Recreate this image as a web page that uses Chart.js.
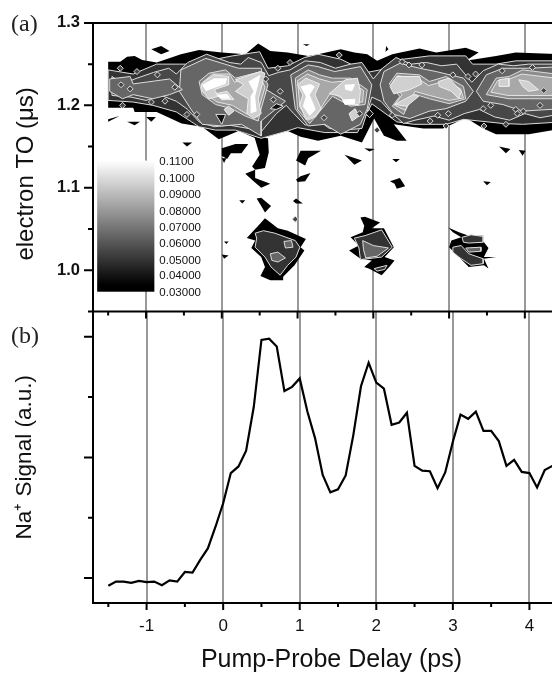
<!DOCTYPE html>
<html>
<head>
<meta charset="utf-8">
<title>Pump-probe delay</title>
<script src="https://cdn.jsdelivr.net/npm/chart.js@4"></script>
<style>
  html, body { margin: 0; padding: 0; background: #fff; }
  #wrap { position: relative; width: 552px; height: 673px; overflow: hidden; }
  canvas { position: absolute; left: 0; top: 0; }
  .panel-tag { position: absolute; left: 11px; font: 24px "Liberation Serif", serif; color: #222; }
</style>
</head>
<body>
<div id="wrap">
  <canvas id="signalChart" width="570" height="673"></canvas>
  <canvas id="contourChart" width="570" height="673"></canvas>
  <div class="panel-tag" style="top:10px">(a)</div>
  <div class="panel-tag" style="top:322px">(b)</div>
</div>
<script>
// Delay axis shared by both panels
const xMin = -1.70, xMax = 4.53;
const delayTicks = [-1.5, -1, -0.5, 0, 0.5, 1, 1.5, 2, 2.5, 3, 3.5, 4];

// Panel (b): Na+ signal
const delays = [-1.5, -1.4, -1.3, -1.2, -1.1, -1, -0.9, -0.8, -0.7, -0.6, -0.5, -0.4, -0.3, -0.2, -0.1,
  0, 0.1, 0.2, 0.3, 0.4, 0.5, 0.6, 0.7, 0.8, 0.9, 1, 1.1, 1.2, 1.3, 1.4, 1.5, 1.6, 1.7, 1.8, 1.9,
  2, 2.1, 2.2, 2.3, 2.4, 2.5, 2.6, 2.7, 2.8, 2.9, 3, 3.1, 3.2, 3.3, 3.4, 3.5, 3.6, 3.7, 3.8, 3.9,
  4, 4.1, 4.2, 4.3];
const naSignal = [-0.13, -0.06, -0.06, -0.08, -0.05, -0.07, -0.06, -0.12, -0.04, -0.06, 0.10, 0.09, 0.30, 0.49, 0.85,
  1.24, 1.74, 1.85, 2.11, 2.84, 3.95, 3.97, 3.84, 3.10, 3.17, 3.31, 2.76, 2.32, 1.71, 1.42, 1.47, 1.70, 2.37, 3.18, 3.57,
  3.24, 3.14, 2.54, 2.58, 2.74, 1.86, 1.78, 1.77, 1.49, 1.75, 2.26, 2.71, 2.64, 2.76, 2.44, 2.44, 2.27, 1.86, 1.96, 1.76,
  1.74, 1.50, 1.79, 1.86];
const signalTicks = [0, 1, 2, 3, 4];

// Panel (a): contour regions per level, [delay ps, time of flight us]
const timeTicks = [1.3, 1.25, 1.2, 1.15, 1.1, 1.05, 1, 0.95];

const level030 = [
  [[-1.5,1.253],[-1.34,1.253],[-1.25,1.259],[-1.15,1.26],[-1.05,1.255],[-0.86,1.252],[-0.54,1.262],[-0.3,1.267],[0,1.264],[0.31,1.262],[0.48,1.275],[0.64,1.266],[0.87,1.264],[1.14,1.26],[1.27,1.262],[1.57,1.268],[1.75,1.264],[1.92,1.262],[2.05,1.254],[2.25,1.262],[2.61,1.269],[2.83,1.264],[3.22,1.27],[3.39,1.264],[3.22,1.254],[3.62,1.26],[3.88,1.264],[4.5,1.262],
   [4.5,1.172],[4.05,1.165],[3.62,1.165],[3.45,1.172],[3.22,1.185],[2.92,1.172],[2.66,1.172],[2.27,1.177],[2.44,1.157],[2.31,1.157],[2.14,1.163],[2.01,1.184],[1.85,1.155],[1.57,1.163],[1.27,1.157],[1.04,1.162],[0.87,1.169],[0.48,1.159],[0.22,1.169],[-0.04,1.159],[-0.26,1.174],[-0.53,1.178],[-0.86,1.192],[-1.15,1.192],[-1.17,1.197],[-1.5,1.197],[-1.5,1.183],[-1.35,1.187],[-1.5,1.18]],
  [[0.46,1.052],[0.57,1.063],[0.74,1.051],[0.87,1.048],[1.11,1.038],[1.04,1.028],[1.09,1.024],[0.96,1.006],[0.81,0.992],[0.81,0.988],[0.64,0.988],[0.51,0.993],[0.57,1.004],[0.52,1.016],[0.39,1.027],[0.44,1.036],[0.33,1.039],[0.44,1.05]],
  [[1.83,1.064],[1.89,1.065],[2.09,1.058],[1.98,1.051],[2.14,1.051],[2.27,1.028],[2.15,1.016],[2.28,1.012],[2.21,1.004],[2.11,0.994],[1.94,1.002],[1.88,1.004],[1.98,1.012],[1.83,1.014],[1.68,1.024],[1.81,1.03],[1.7,1.04],[1.86,1.046],[1.88,1.054]],
  [[2.99,1.052],[3.13,1.046],[3.26,1.042],[3.45,1.042],[3.46,1.034],[3.52,1.027],[3.46,1.016],[3.62,1.016],[3.46,1.014],[3.52,1.002],[3.46,1.006],[3.26,1.004],[3.13,1.016],[3,1.028],[3.03,1.036],[3.16,1.04],[3.05,1.046]],
  [[-0.93,1.268],[-0.8,1.272],[-0.69,1.266],[-0.8,1.262]],
  [[0,1.148],[0.18,1.153],[0.35,1.153],[0.26,1.142],[0.12,1.142],[0.07,1.135],[0,1.139]],
  [[0.43,1.162],[0.61,1.16],[0.62,1.143],[0.57,1.124],[0.44,1.122],[0.4,1.126],[0.5,1.14]],
  [[0.31,1.117],[0.44,1.122],[0.44,1.112],[0.64,1.105],[0.52,1.1],[0.42,1.108]],
  [[0.46,1.087],[0.52,1.088],[0.65,1.078],[0.57,1.07],[0.52,1.078]],
  [[0.98,1.133],[1.04,1.145],[1.31,1.145],[1.14,1.136],[1.1,1.127]],
  [[0.98,1.11],[1.04,1.114],[1.17,1.118],[1.1,1.108],[1,1.107]],
  [[0.94,1.084],[0.98,1.087],[1.07,1.081],[0.98,1.081]],
  [[2.22,1.108],[2.35,1.112],[2.42,1.102],[2.31,1.099],[2.28,1.105]],
  [[2.25,1.135],[2.35,1.135],[2.3,1.131]],
  [[3.45,1.108],[3.55,1.107],[3.5,1.103]],
  [[3.66,1.15],[3.81,1.147],[3.75,1.142]],
  [[1.88,1.148],[2.02,1.147],[1.95,1.144]],
  [[1.62,1.14],[1.85,1.133],[1.75,1.128]],
  [[2.17,1.272],[2.2,1.268],[2.16,1.265]],
  [[1.07,1.274],[1.16,1.274],[1.12,1.272]],
  [[3.92,1.146],[4.01,1.145],[3.97,1.139]],
  [[-1.25,1.18],[-1.08,1.18],[-1.15,1.176]],
  [[-1,1.186],[-0.87,1.186],[-0.93,1.18]],
  [[-0.52,1.155],[-0.39,1.155],[-0.46,1.15]],
  [[0.23,1.085],[0.31,1.085],[0.27,1.081]],
  [[0.03,1.035],[0.09,1.035],[0.06,1.032]],
  [[0,1.019],[0.09,1.018],[0.03,1.014]],
  [[0,1.136],[0.06,1.136],[0.03,1.13]]
];

const level040 = [
  [[-1.5,1.243],[-1.17,1.238],[-0.86,1.25],[-0.56,1.25],[-0.3,1.25],[-0.08,1.256],[0.14,1.26],[0.5,1.265],[0.61,1.245],[0.87,1.248],[1.09,1.258],[1.27,1.262],[1.57,1.256],[1.92,1.24],[2.09,1.243],[2.31,1.255],[2.74,1.26],[3.22,1.26],[3.31,1.25],[3.62,1.25],[3.88,1.254],[4.5,1.254],
   [4.5,1.18],[3.97,1.177],[3.71,1.178],[3.19,1.183],[2.96,1.177],[2.53,1.177],[2.31,1.18],[2.22,1.186],[1.98,1.202],[1.79,1.167],[1.36,1.167],[1,1.173],[0.87,1.169],[0.52,1.16],[0.18,1.17],[-0.08,1.17],[-0.3,1.174],[-0.6,1.192],[-0.91,1.2],[-1.17,1.204],[-1.5,1.206]],
  [[0.44,1.045],[0.55,1.048],[0.7,1.045],[0.97,1.036],[1.03,1.028],[0.98,1.016],[0.87,1.006],[0.77,0.994],[0.65,1.004],[0.57,1.016],[0.44,1.028],[0.46,1.039]],
  [[1.75,1.039],[1.89,1.042],[2.11,1.049],[2.25,1.028],[2.11,1.016],[1.83,1.013],[1.81,1.027]],
  [[2.01,1.002],[2.18,1.006],[2.15,1.001],[2.05,0.999]],
  [[3.17,1.04],[3.29,1.043],[3.45,1.041],[3.45,1.034],[3.26,1.033],[3.19,1.034]],
  [[3.05,1.028],[3.16,1.03],[3.26,1.02],[3.45,1.014],[3.45,1.008],[3.29,1.006],[3.13,1.016],[3.05,1.022]]
];

const level048 = [
  [[-1.45,1.235],[-1.3,1.226],[-1.15,1.232],[-0.9,1.24],[-0.7,1.245],[-0.6,1.238],[-0.45,1.252],[-0.2,1.262],[0.1,1.252],[0.25,1.25],[0.35,1.258],[0.52,1.252],[0.62,1.236],[0.75,1.24],[0.9,1.243],[1.1,1.254],[1.3,1.252],[1.5,1.245],[1.7,1.25],[1.85,1.252],[2,1.232],[2.12,1.245],[2.3,1.258],[2.5,1.25],[2.7,1.252],[2.9,1.248],[3.1,1.25],[3.3,1.228],[3.45,1.242],[3.65,1.25],[3.85,1.248],[4.05,1.25],[4.5,1.25],
   [4.5,1.19],[4.2,1.185],[4,1.19],[3.8,1.182],[3.6,1.186],[3.4,1.195],[3.2,1.19],[3,1.182],[2.8,1.187],[2.55,1.182],[2.4,1.178],[2.25,1.19],[2.1,1.205],[1.98,1.21],[1.85,1.172],[1.6,1.17],[1.42,1.172],[1.3,1.18],[1.1,1.176],[0.95,1.19],[0.85,1.2],[0.72,1.19],[0.52,1.168],[0.35,1.172],[0.1,1.176],[-0.1,1.174],[-0.3,1.18],[-0.45,1.195],[-0.6,1.205],[-0.8,1.212],[-1,1.206],[-1.2,1.21],[-1.45,1.212]]
];

const level055 = [
  [[-0.54,1.243],[-0.21,1.257],[0.22,1.245],[0.52,1.245],[0.57,1.22],[0.84,1.205],[0.52,1.181],[0.52,1.163],[0.26,1.177],[0,1.175],[-0.26,1.177],[-0.39,1.193],[-0.56,1.217]],
  [[0.91,1.237],[1.14,1.249],[1.27,1.247],[1.49,1.241],[1.83,1.247],[1.98,1.225],[1.92,1.196],[1.83,1.177],[1.57,1.165],[1.36,1.177],[1.14,1.175],[0.97,1.196]],
  [[2.14,1.241],[2.35,1.251],[2.61,1.245],[2.83,1.241],[3.19,1.233],[3.32,1.217],[3.22,1.205],[2.96,1.196],[2.74,1.193],[2.48,1.184],[2.27,1.189],[2.14,1.205],[2.09,1.225]],
  [[3.36,1.217],[3.49,1.237],[3.71,1.245],[4.05,1.245],[4.5,1.247],[4.5,1.196],[3.97,1.193],[3.71,1.201],[3.45,1.205]],
  [[-1.48,1.232],[-1.21,1.235],[-1.17,1.226],[-0.69,1.232],[-0.52,1.219],[-0.69,1.213],[-0.91,1.208],[-1.17,1.213],[-1.31,1.208],[-1.48,1.217]],
  [[0.64,1.02],[0.74,1.022],[0.84,1.015],[0.74,1.01],[0.66,1.012]],
  [[0.82,1.035],[0.92,1.036],[0.94,1.028],[0.84,1.027]],
  [[1.86,1.036],[2,1.03],[2.2,1.027],[2.05,1.017],[1.9,1.015],[1.87,1.025]],
  [[3.22,1.027],[3.42,1.028],[3.42,1.023],[3.26,1.022]]
];

const level070 = [
  [[-0.3,1.229],[-0.17,1.239],[0.05,1.243],[0.18,1.233],[0.52,1.241],[0.61,1.225],[0.52,1.196],[0.48,1.181],[0.31,1.187],[0.13,1.196],[-0.08,1.201],[-0.26,1.213]],
  [[0.97,1.233],[1.14,1.243],[1.29,1.237],[1.46,1.233],[1.7,1.233],[1.92,1.219],[1.89,1.201],[1.7,1.199],[1.46,1.211],[1.27,1.19],[1.16,1.178],[1,1.195]],
  [[2.21,1.226],[2.31,1.239],[2.61,1.237],[2.74,1.229],[2.96,1.235],[3.19,1.223],[3.22,1.208],[3,1.202],[2.74,1.208],[2.53,1.214],[2.4,1.189],[2.25,1.199],[2.35,1.211]],
  [[3.62,1.233],[3.79,1.235],[3.97,1.243],[4.5,1.237],[4.5,1.208],[4.05,1.208],[3.79,1.208],[3.49,1.213]]
];

const level080 = [
  [[-0.25,1.228],[-0.12,1.238],[0.1,1.238],[0.17,1.228],[0.48,1.24],[0.57,1.222],[0.5,1.2],[0.47,1.186],[0.32,1.19],[0.14,1.2],[-0.06,1.204],[-0.24,1.215]],
  [[1,1.23],[1.13,1.238],[1.29,1.232],[1.45,1.228],[1.68,1.23],[1.87,1.218],[1.86,1.204],[1.68,1.204],[1.44,1.216],[1.33,1.2],[1.24,1.186],[1.14,1.182],[1.03,1.198]],
  [[2.24,1.226],[2.32,1.236],[2.6,1.232],[2.73,1.224],[2.96,1.23],[3.15,1.22],[3.19,1.209],[3,1.206],[2.74,1.212],[2.55,1.217],[2.42,1.194],[2.28,1.2],[2.38,1.213]],
  [[3.64,1.23],[3.8,1.232],[3.96,1.238],[4.5,1.232],[4.5,1.212],[4.05,1.212],[3.78,1.212],[3.55,1.216]]
];

const level090 = [
  [[-0.27,1.226],[-0.1,1.237],[0.09,1.235],[0.09,1.225],[-0.1,1.219],[-0.04,1.211],[-0.17,1.208],[-0.26,1.217]],
  [[-0.08,1.214],[0.07,1.217],[0.16,1.207],[0,1.207]],
  [[0.18,1.231],[0.51,1.241],[0.57,1.239],[0.48,1.207],[0.52,1.19],[0.42,1.184],[0.33,1.19],[0.35,1.208],[0.18,1.217],[0.29,1.225]],
  [[0.03,1.195],[0.09,1.199],[0.16,1.193],[0.09,1.188]],
  [[1,1.225],[1.11,1.233],[1.29,1.226],[1.23,1.213],[1.31,1.196],[1.23,1.187],[1.11,1.183],[1.03,1.201],[1.07,1.213]],
  [[1.42,1.214],[1.63,1.231],[1.79,1.233],[1.83,1.217],[1.81,1.201],[1.63,1.201],[1.57,1.211]],
  [[1.68,1.19],[1.76,1.196],[1.81,1.187],[1.72,1.181]],
  [[2.22,1.223],[2.31,1.235],[2.61,1.235],[2.64,1.226],[2.48,1.219],[2.27,1.214]],
  [[2.28,1.201],[2.53,1.213],[2.6,1.211],[2.44,1.199]],
  [[2.86,1.229],[3,1.233],[3.16,1.217],[3.13,1.208],[3.03,1.217],[2.87,1.223]],
  [[3.66,1.231],[3.79,1.233],[3.79,1.223],[3.66,1.223]],
  [[3.92,1.231],[4.05,1.229],[4.18,1.219],[4.05,1.217],[3.97,1.223]]
];

const level105 = [
  [[-0.26,1.225],[-0.1,1.233],[0.07,1.233],[0.05,1.226],[-0.13,1.22],[-0.21,1.217]],
  [[-0.07,1.213],[0.07,1.214],[0.12,1.208],[-0.01,1.208]],
  [[0.35,1.229],[0.51,1.237],[0.48,1.225],[0.44,1.211],[0.46,1.193],[0.38,1.19],[0.38,1.211],[0.42,1.217]],
  [[1.04,1.223],[1.17,1.226],[1.23,1.223],[1.16,1.213],[1.24,1.195],[1.16,1.187],[1.07,1.199],[1.11,1.211]],
  [[1.62,1.225],[1.76,1.226],[1.72,1.217],[1.63,1.219]],
  [[1.59,1.207],[1.76,1.208],[1.76,1.202],[1.62,1.201]]
];

// dark holes inside the band
const holes = [
  [[0.64,1.196],[0.72,1.202],[0.81,1.199],[0.72,1.195]],
  [[-0.08,1.189],[0.05,1.189],[0,1.177]],
  [[1.9,1.19],[1.95,1.195],[2,1.19],[1.95,1.185]]
];

// tiny closed rings scattered around the band
const ringDelay = [-1.34, -1.12, -0.85, -1.33, -1.21, -0.93, -1.31, -0.46, -0.33, 0.74, 0.77, 2.47, 2.64, 2.38, 1.55, 3.05, 3.25, 2.99, 3.45, 3.46, 2.96, 3.88, 3.98, 3.75, 0.97,
  -0.62, -0.75, 0.58, 0.68, 0.9, 1.35, 1.82, 2.05, 2.25, 2.75, 2.85, 3.35, 3.55, 3.7, 3.9, 4.1, 4.2, 4.25];
const ringTime = [1.245, 1.241, 1.237, 1.225, 1.22, 1.204, 1.2, 1.189, 1.189, 1.245, 1.217, 1.249, 1.249, 1.253, 1.261, 1.237, 1.235, 1.19, 1.196, 1.175, 1.175, 1.195, 1.193, 1.177, 1.062,
  1.222, 1.205, 1.232, 1.207, 1.252, 1.185, 1.19, 1.17, 1.188, 1.181, 1.188, 1.238, 1.2, 1.242, 1.19, 1.246, 1.2, 1.218];

// colour bar, data units of panel (a)
const barLeft = -1.645, barRight = -0.89, barTop = 1.133, barBottom = 0.974;
const barLabels = ['0.1100', '0.1000', '0.09000', '0.08000', '0.07000', '0.06000', '0.05000', '0.04000', '0.03000'];
const barLabelTimes = [1.131, 1.111, 1.091, 1.071, 1.052, 1.032, 1.012, 0.993, 0.973];

function regionDatasets(regions, fillColor, borderColor) {
  return regions.map(pts => ({
    data: pts.concat([pts[0]]).map(p => ({ x: p[0], y: p[1] })),
    showLine: true,
    fill: 'shape',
    backgroundColor: fillColor,
    borderColor: borderColor,
    borderWidth: borderColor === fillColor ? 0 : 1,
    pointRadius: 0,
    tension: 0
  }));
}

// Axis lines and tick marks, longer on the major ticks
const frame = {
  id: 'frame',
  afterDraw(chart, args, opts) {
    const { ctx, chartArea, scales } = chart;
    ctx.save();
    ctx.strokeStyle = '#000';
    ctx.lineWidth = 2;
    ctx.beginPath();
    ctx.moveTo(chartArea.left, chartArea.top - 1);
    ctx.lineTo(chartArea.left, chartArea.bottom);
    ctx.moveTo(chartArea.left - 1, chartArea.bottom);
    ctx.lineTo(chartArea.right, chartArea.bottom);
    if (opts.topLine) {
      ctx.moveTo(chartArea.left - 9, chartArea.top);
      ctx.lineTo(chartArea.right, chartArea.top);
    }
    scales.x.ticks.forEach(t => {
      const px = scales.x.getPixelForValue(t.value);
      ctx.moveTo(px, chartArea.bottom);
      ctx.lineTo(px, chartArea.bottom + (t.major ? 7 : 4));
    });
    scales.y.ticks.forEach(t => {
      const py = scales.y.getPixelForValue(t.value);
      ctx.moveTo(chartArea.left, py);
      ctx.lineTo(chartArea.left - (t.major ? 9 : 5), py);
    });
    ctx.stroke();
    ctx.restore();
  }
};

const colorBar = {
  id: 'colorBar',
  afterDatasetsDraw(chart) {
    const { ctx, scales } = chart;
    const left = scales.x.getPixelForValue(barLeft);
    const right = scales.x.getPixelForValue(barRight);
    const top = scales.y.getPixelForValue(barTop);
    const bottom = scales.y.getPixelForValue(barBottom);
    const grad = ctx.createLinearGradient(0, top, 0, bottom);
    grad.addColorStop(0, '#fff');
    grad.addColorStop(0.95, '#000');
    grad.addColorStop(1, '#000');
    ctx.save();
    ctx.fillStyle = grad;
    ctx.fillRect(left, top, right - left, bottom - top);
    ctx.fillStyle = '#111';
    ctx.font = '11.5px "Liberation Sans", sans-serif';
    ctx.textBaseline = 'middle';
    barLabels.forEach((label, i) => {
      ctx.fillText(label, right + 5, scales.y.getPixelForValue(barLabelTimes[i]));
    });
    ctx.restore();
  }
};

function delayAxis(showLabels) {
  return {
    type: 'linear',
    min: xMin,
    max: xMax,
    afterBuildTicks: s => { s.ticks = delayTicks.map(v => ({ value: v, major: Number.isInteger(v) })); },
    afterFit: s => { s.height = showLabels ? 70 : 0; },
    border: { display: false },
    grid: {
      drawTicks: false,
      lineWidth: 2,
      color: c => Number.isInteger(c.tick.value) ? '#999' : 'rgba(0,0,0,0)'
    },
    ticks: {
      display: showLabels,
      autoSkip: false,
      maxRotation: 0,
      padding: 13,
      color: '#111',
      font: { family: '"Liberation Sans"', size: 17 },
      callback: v => Number.isInteger(v) ? String(v) : ''
    },
    title: {
      display: showLabels,
      text: 'Pump-Probe Delay (ps)',
      color: '#111',
      font: { family: '"Liberation Sans"', size: 25 },
      padding: { top: 0, bottom: -2 }
    }
  };
}

function valueAxis(min, max, tickValues, isMajor, showLabels, title, titleSize) {
  return {
    type: 'linear',
    min: min,
    max: max,
    afterBuildTicks: s => { s.ticks = tickValues.map(v => ({ value: v, major: isMajor(v) })); },
    afterFit: s => { s.width = 93; },
    border: { display: false },
    grid: { display: false, drawTicks: false },
    ticks: {
      display: showLabels,
      autoSkip: false,
      padding: 13,
      color: '#111',
      font: { family: '"Liberation Sans"', size: 16.5, weight: 'bold' },
      callback: v => (isMajor(v) && v !== 0.95) ? v.toFixed(1) : ''
    },
    title: {
      display: true,
      text: title,
      color: '#111',
      font: { family: '"Liberation Sans"', size: titleSize },
      padding: { top: 11.5, bottom: 0 }
    }
  };
}

const quietPlugins = { legend: { display: false }, tooltip: { enabled: false } };

// Panel (a)
const contourSets = [].concat(
  regionDatasets(level030, '#000', '#000'),
  regionDatasets(level040, '#333', '#ddd'),
  regionDatasets(level048, '#484848', '#ddd'),
  regionDatasets(level055, '#666', '#ddd'),
  regionDatasets(level070, '#8c8c8c', '#ddd'),
  regionDatasets(level080, '#a8a8a8', '#e4e4e4'),
  regionDatasets(level090, '#d0d0d0', '#eee'),
  regionDatasets(level105, '#fff', '#fff'),
  regionDatasets(holes, '#111', '#ddd')
);
contourSets.push({
  data: ringDelay.map((d, i) => ({ x: d, y: ringTime[i] })),
  showLine: false,
  pointStyle: 'rectRot',
  pointRadius: 3,
  pointBackgroundColor: '#444',
  pointBorderColor: '#ddd',
  pointBorderWidth: 1
});
// first dataset goes underneath
contourSets.forEach((set, i) => { set.order = -i; });

new Chart(document.getElementById('contourChart'), {
  type: 'scatter',
  data: { datasets: contourSets },
  options: {
    responsive: false,
    animation: false,
    layout: { padding: { top: 21, bottom: 361.5, left: 0, right: 0 } },
    scales: {
      x: delayAxis(false),
      y: valueAxis(0.95, 1.3, timeTicks, v => Math.abs(v * 10 - Math.round(v * 10)) < 1e-6, true, 'electron TO (\u03bcs)  ', 24)
    },
    plugins: Object.assign({ frame: { topLine: true } }, quietPlugins)
  },
  plugins: [frame, colorBar]
});

// Panel (b)
new Chart(document.getElementById('signalChart'), {
  type: 'scatter',
  data: {
    datasets: [{
      data: delays.map((d, i) => ({ x: d, y: naSignal[i] })),
      showLine: true,
      borderColor: '#000',
      borderWidth: 2.2,
      pointRadius: 0,
      tension: 0
    }]
  },
  options: {
    responsive: false,
    animation: false,
    layout: { padding: { top: 311.5, bottom: 0, left: 0, right: 0 } },
    scales: {
      x: delayAxis(true),
      y: valueAxis(-0.415, 4.42, signalTicks, v => v % 2 === 0, false, 'Na\u207a Signal (a.u.)', 22.5)
    },
    plugins: Object.assign({ frame: { topLine: false } }, quietPlugins)
  },
  plugins: [frame]
});
</script>
</body>
</html>
